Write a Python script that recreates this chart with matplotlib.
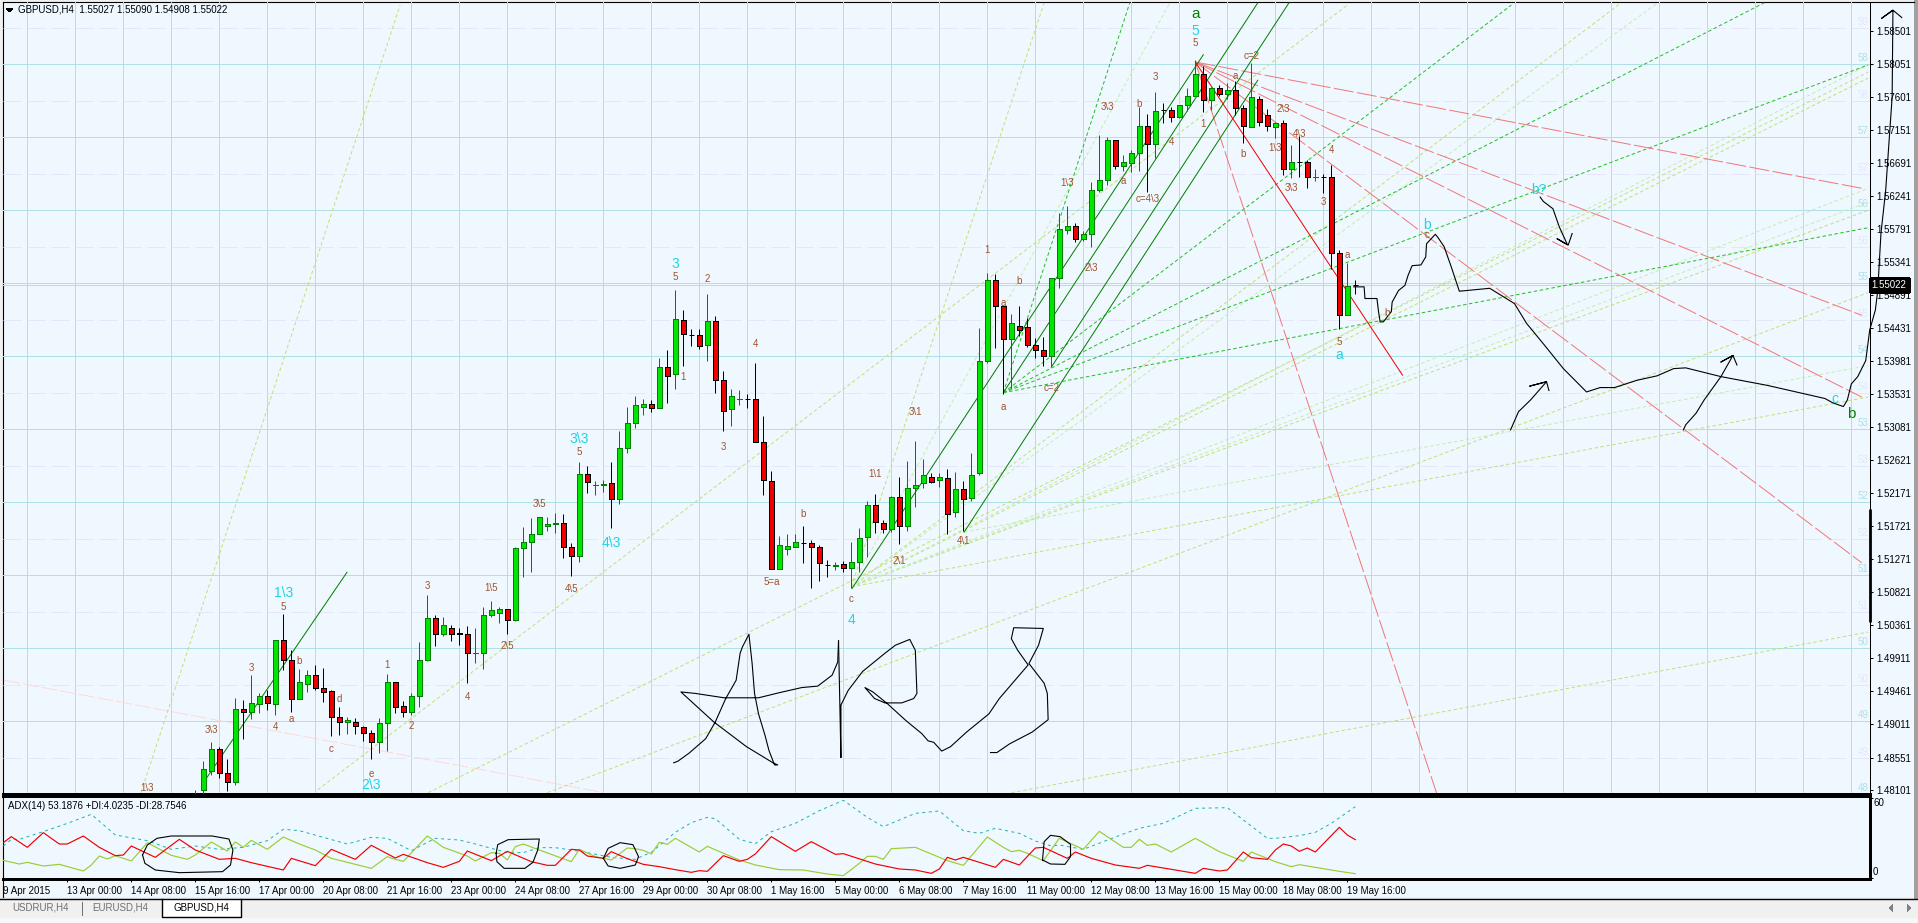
import matplotlib
matplotlib.use("Agg")
import matplotlib.pyplot as plt
from matplotlib.patches import Rectangle, Polygon
from matplotlib.transforms import blended_transform_factory as blend

plt.rcParams['font.family'] = ['Liberation Sans', 'DejaVu Sans']
plt.rcParams['lines.antialiased'] = True
plt.rcParams['patch.antialiased'] = False

# ---------------- candles, first bar index 21 ----------------
first_bar = 21
highs = [1.4810,1.4851,1.4877,1.4870,1.4853,1.4937,1.4934,1.4968,1.4943,1.4947,
 1.5016,1.5052,1.5002,1.4976,1.4975,1.4982,1.4978,1.4947,1.4925,1.4911,
 1.4910,1.4899,1.4893,1.4909,1.4970,1.4958,1.4932,1.4943,1.5014,1.5078,
 1.5050,1.5047,1.5037,1.5033,1.5035,1.5032,1.5062,1.5069,1.5062,1.5059,
 1.5144,1.5171,1.5183,1.5185,1.5185,1.5190,1.5189,1.5149,1.5260,1.5255,
 1.5234,1.5236,1.5260,1.5303,1.5335,1.5350,1.5346,1.5345,1.5403,1.5413,
 1.5496,1.5468,1.5442,1.5442,1.5490,1.5460,1.5385,1.5360,1.5358,1.5353,
 1.5396,1.5323,1.5248,1.5159,1.5162,1.5161,1.5172,1.5153,1.5147,1.5126,
 1.5123,1.5125,1.5151,1.5169,1.5207,1.5216,1.5181,1.5213,1.5239,1.5261,
 1.5289,1.5264,1.5245,1.5245,1.5250,1.5247,1.5234,1.5272,1.5443,1.5519,
 1.5518,1.5475,1.5463,1.5474,1.5457,1.5430,1.5431,1.5512,1.5601,1.5611,
 1.5587,1.5576,1.5644,1.5708,1.5705,1.5701,1.5681,1.5687,1.5746,1.5737,
 1.5767,1.5752,1.5746,1.5749,1.5773,1.5811,1.5803,1.5774,1.5777,1.5779,
 1.5782,1.5749,1.5806,1.5761,1.5743,1.5726,1.5729,1.5694,1.5706,1.5674,
 1.5661,1.5655,1.5667,1.5551,1.5532,1.55090]
body_top = [1.4800,1.4839,1.4867,1.4867,1.4834,1.4921,1.4922,1.4930,1.4940,1.4940,
 1.5016,1.5016,1.4989,1.4958,1.4968,1.4968,1.4951,1.4946,1.4911,1.4906,
 1.4904,1.4897,1.4889,1.4903,1.4958,1.4958,1.4926,1.4940,1.4989,1.5046,
 1.5046,1.5037,1.5033,1.5026,1.5024,1.4999,1.5051,1.5057,1.5058,1.5058,
 1.5142,1.5151,1.5162,1.5184,1.5175,1.5176,1.5176,1.5143,1.5243,1.5243,
 1.5228,1.5230,1.5231,1.5279,1.5313,1.5338,1.5340,1.5340,1.5390,1.5390,
 1.5456,1.5454,1.5434,1.5434,1.5453,1.5453,1.5372,1.5350,1.5347,1.5347,
 1.5347,1.5288,1.5234,1.5146,1.5145,1.5150,1.5149,1.5149,1.5144,1.5119,
 1.5119,1.5120,1.5123,1.5156,1.5201,1.5201,1.5177,1.5212,1.5212,1.5225,
 1.5228,1.5242,1.5240,1.5239,1.5238,1.5223,1.5223,1.5242,1.5398,1.5510,
 1.5510,1.5474,1.5450,1.5447,1.5445,1.5421,1.5413,1.5512,1.5579,1.5583,
 1.5583,1.5573,1.5632,1.5647,1.5701,1.5701,1.5671,1.5684,1.5721,1.5721,
 1.5741,1.5742,1.5742,1.5749,1.5761,1.5791,1.5791,1.5773,1.5773,1.5769,
 1.5769,1.5745,1.5760,1.5758,1.5736,1.5724,1.5724,1.5671,1.5671,1.5671,
 1.5651,1.5651,1.5650,1.5546,1.5501,1.55027]
body_bottom = [1.4790,1.4810,1.4837,1.4834,1.4822,1.4822,1.4918,1.4918,1.4929,1.4930,
 1.4929,1.4989,1.4936,1.4936,1.4956,1.4951,1.4945,1.4911,1.4904,1.4904,
 1.4898,1.4889,1.4877,1.4877,1.4903,1.4924,1.4917,1.4917,1.4940,1.4989,
 1.5024,1.5024,1.5025,1.5024,1.4999,1.4999,1.4999,1.5051,1.5053,1.5044,
 1.5043,1.5142,1.5151,1.5162,1.5173,1.5175,1.5143,1.5131,1.5131,1.5232,
 1.5228,1.5228,1.5210,1.5210,1.5279,1.5313,1.5336,1.5334,1.5334,1.5378,
 1.5380,1.5436,1.5434,1.5419,1.5420,1.5372,1.5330,1.5332,1.5346,1.5347,
 1.5288,1.5235,1.5113,1.5113,1.5141,1.5143,1.5149,1.5143,1.5121,1.5119,
 1.5118,1.5115,1.5115,1.5123,1.5157,1.5178,1.5168,1.5168,1.5173,1.5173,
 1.5225,1.5231,1.5233,1.5235,1.5189,1.5191,1.5210,1.5211,1.5245,1.5398,
 1.5474,1.5428,1.5429,1.5441,1.5421,1.5413,1.5405,1.5405,1.5512,1.5578,
 1.5565,1.5565,1.5573,1.5632,1.5647,1.5666,1.5666,1.5670,1.5684,1.5695,
 1.5695,1.5742,1.5732,1.5732,1.5749,1.5761,1.5756,1.5756,1.5764,1.5764,
 1.5745,1.5720,1.5719,1.5726,1.5721,1.5719,1.5662,1.5662,1.5671,1.5650,
 1.5650,1.5651,1.5546,1.5462,1.5462,1.55022]
lows = [1.4780,1.4800,1.4831,1.4827,1.4809,1.4817,1.4880,1.4908,1.4916,1.4920,
 1.4913,1.4975,1.4918,1.4935,1.4945,1.4947,1.4931,1.4884,1.4886,1.4887,
 1.4888,1.4878,1.4853,1.4861,1.4864,1.4916,1.4911,1.4913,1.4925,1.4988,
 1.5008,1.5021,1.5015,1.5009,1.4957,1.4984,1.4977,1.5048,1.5039,1.5025,
 1.5042,1.5102,1.5110,1.5161,1.5166,1.5163,1.5128,1.5104,1.5123,1.5218,
 1.5215,1.5219,1.5170,1.5203,1.5272,1.5307,1.5324,1.5329,1.5334,1.5341,
 1.5360,1.5391,1.5419,1.5415,1.5399,1.5354,1.5302,1.5310,1.5338,1.5334,
 1.5288,1.5215,1.5113,1.5113,1.5132,1.5143,1.5122,1.5088,1.5097,1.5103,
 1.5112,1.5110,1.5088,1.5110,1.5130,1.5163,1.5163,1.5164,1.5148,1.5166,
 1.5199,1.5225,1.5231,1.5226,1.5162,1.5185,1.5165,1.5207,1.5242,1.5395,
 1.5416,1.5353,1.5361,1.5433,1.5418,1.5402,1.5391,1.5391,1.5499,1.5573,
 1.5561,1.5563,1.5554,1.5630,1.5639,1.5662,1.5659,1.5658,1.5659,1.5630,
 1.5676,1.5725,1.5726,1.5731,1.5741,1.5761,1.5739,1.5742,1.5761,1.5758,
 1.5735,1.5697,1.5719,1.5720,1.5713,1.5704,1.5653,1.5649,1.5650,1.5635,
 1.5645,1.5628,1.5525,1.5442,1.5461,1.54908]
candle_kind = ("gggrrgrggr" "grrggrrrrg" "rrrggrrggg" "rgrrrggggr" "ggggggrrgr" "ggrggggrgr" "grkrgrrggk"
               "rrrgggkrrk" "grgggrrgrg" "ggrgrgrggg" "rrgrrrrggg" "rggggrgggr" "gkrgggrgrg" "rrgrrgrgkr" "gkrrgk")

# ---------------- price and time scale ----------------
price_ticks = [1.58501,1.58051,1.57601,1.57151,1.56691,1.56241,1.55791,1.55341,1.54891,1.54431,1.53981,1.53531,
               1.53081,1.52621,1.52171,1.51721,1.51271,1.50821,1.50361,1.49911,1.49461,1.49011,1.48551,1.48101]
last_price = 1.55022
grid_solid = [1.5805,1.5705,1.5605,1.5505,1.5405,1.5305,1.5205,1.5105,1.5005,1.4905]
grid_dashed = [1.5855,1.5755,1.5655,1.5555,1.5455,1.5355,1.5255,1.5155,1.5055,1.4955,1.4855]
level_prices = [1.5855,1.5805,1.5755,1.5705,1.5655,1.5605,1.5555,1.5505,1.5455,1.5405,1.5355,
                1.5305,1.5255,1.5205,1.5155,1.5105,1.5055,1.5005,1.4955,1.4905,1.4855,1.4805]
level_names = ['59','58','58','57','57','56','56','55','55','54','54','53','53','52','52','51','51','50','50','49','49','48']
grid_bars = list(range(0, 229, 6))
time_labels = ['9 Apr 2015','13 Apr 00:00','14 Apr 08:00','15 Apr 16:00','17 Apr 00:00','20 Apr 08:00','21 Apr 16:00',
               '23 Apr 00:00','24 Apr 08:00','27 Apr 16:00','29 Apr 00:00','30 Apr 08:00','1 May 16:00','5 May 00:00',
               '6 May 08:00','7 May 16:00','11 May 00:00','12 May 08:00','13 May 16:00','15 May 00:00','18 May 08:00','19 May 16:00']
time_bars = list(range(-3, 170, 8))

# ---------------- ADX ----------------
plus_di_bar = [-3,-1,0,2,4,7,8,9,10,11,13,15,18,20,21,23,25,26,27,28,30,32,34,36,38,40,43,45,46,47,50,52,55,56,58,59,60,61,62,64,68,69,71,73,75,76,
 77,78,79,80,81,84,85,89,91,94,97,100,102,104,105,106,107,108,111,115,117,120,122,123,124,125,127,129,132,134,137,138,139,140,141,143,146,149,152,153,156,158,159,164,166]
plus_di = [13.5,10.75,12,9.25,10.5,5.5,10,16.75,14.5,17,13,26.75,17.25,14.25,17.5,27.25,20.5,27.25,23.25,28.5,21.75,31,25.75,21.25,15,12,7.5,16.25,14.25,12.75,31.75,23.25,16.75,13,19.25,18.75,13.75,23.75,25.75,21.25,12.5,21.75,16.25,13.75,22.75,22.25,
 21,18.25,27,25.5,30,19.75,24,13.75,10,6.5,6.25,3.25,2,11.25,16.5,16.5,14.25,22.25,23.25,13.25,9.75,31,23.25,20,21,18.75,13.25,30,21.75,35.25,23.25,23.25,29.25,24.75,25.75,19.75,30,20,12.75,19.75,12.5,8.75,10.25,5.25,3.5]
minus_di_bar = [-3,-2,0,2,4,5,7,9,11,12,13,16,19,21,24,26,28,32,33,36,38,41,43,46,47,50,52,54,55,58,60,63,65,66,68,69,70,72,73,75,
 77,79,81,83,84,85,87,89,90,91,93,96,98,101,102,106,109,111,113,114,115,116,117,121,122,124,126,127,130,131,133,136,139,140,146,147,149,150,152,153,155,156,157,158,159,160,161,164,165,166]
minus_di = [26.75,31.25,23.25,34.25,25.75,25.75,31.75,23.25,17,17.5,24.25,15.75,29.25,21.25,14.25,15,11.75,6.25,15,9.5,21.75,14.25,24.75,15.25,18,11.75,8.25,12.75,20.5,13.25,20.25,12.5,9.75,9.75,21.75,21.25,16.75,15,20,14.75,
 10.5,8.75,6.5,4.5,5.75,5.25,17,12.75,14.25,18.25,31.25,20.25,27.5,18,18.5,10.75,7,6.25,3.75,7,15.75,13.75,15.75,8.25,14.25,10,22.75,23.25,15,19.75,15,10,7.5,9.75,3.75,7.5,5.5,6.25,19.75,15.5,14.25,21.25,25.75,24.25,20.25,22.75,19.75,38.25,32.5,29]
adx_bar = [-3,-2,-1,2,5,8,11,15,18,21,24,27,30,32,34,40,43,45,48,51,54,56,60,62,64,66,68,70,73,76,
 77,78,81,83,85,86,89,91,93,96,99,102,105,107,111,114,117,119,121,124,126,128,129,132,137,139,142,146,150,155,156,159,161,163,166]
adx = [24.25,29.25,29.25,35,41.25,48,32.5,28.25,21.75,24.25,21.75,23.25,28.25,36.75,35.75,25.75,30.75,30,20.75,30,28.75,25.75,19.25,19.25,23,23,21.25,19.25,15.75,14.25,
 17,19.5,34.5,41.75,45.75,44.75,29.25,26,35,41.25,50.75,58.5,45.75,38.75,48.75,50.5,35.75,33.75,37.5,33.75,28,24.25,25,21.75,33.25,37.5,41.25,52.5,53,30,30,32,34.5,41.25,53.75]

ring1_bar = [14.4,15,16.2,18,23.1,25.2,25.7,25.4,24.4,19,16,14.7,14.4]
ring1_val = [17.5,25,30,31.75,31.75,29.5,21.25,10,5,4.25,6.25,11.25,17.5]
ring2_bar = [58.6,58.8,60.1,64,64,63.8,63.2,62.2,59.6,58.7,58.6]
ring2_val = [18.75,25.25,29,29.5,29.5,21.25,12,7.5,7.5,12.5,18.75]
ring3_bar = [72,72.6,74.1,75.7,76.4,76,74.1,72.6,72]
ring3_val = [15,22.5,26.75,25.25,16.25,10,7.5,9.25,15]
ring4_bar = [126.9,127.1,127.9,129.1,130.4,130.4,129.7,127.9,126.9]
ring4_val = [13.75,27.5,32.25,31.25,25.5,16.25,10.5,10.75,13.75]

# ---------------- drawn trend objects: (bar, price) pairs ----------------
channel_segments = [(21.96,1.4820,39.96,1.5109),(103.1,1.5087,147,1.5818),(122,1.5355,153.8,1.5889),
                    (128,1.5390,157.7,1.5889),(117.1,1.5164,153.8,1.5783)]
red_segment = (146,1.5808,171.9,1.5379)
red_fan_ends = [(229.3,1.5635),(229.3,1.5461),(229.3,1.5349),(229.3,1.5122),(176.2,1.4805)]
pink_segment = (-2.9,1.4961,72.1,1.4807)
olive_segments = [(14.2,1.4807,46.6,1.5886),(36.3,1.4811,165,1.5886),(50.1,1.4807,230.1,1.5794),
                  (65,1.4807,230.1,1.5492),(123,1.4807,230.1,1.5027),
                  (103,1.5089,230.1,1.5349),(103,1.5089,230.1,1.5605),(103,1.5089,127.1,1.5889),
                  (103,1.5089,199.2,1.5889),(103,1.5089,230.1,1.5786)]
light_segments = [(103,1.5089,230.1,1.5635),(103,1.5089,230.1,1.5804),(103,1.5089,203.8,1.5889),
                  (103,1.5089,142.8,1.5889),(103,1.5089,230.1,1.5616),(117.1,1.5164,230.1,1.5392)]
green_segments = [(122,1.5355,230.1,1.5581),(122,1.5355,230.1,1.5804),(122,1.5355,217.1,1.5889),
                  (122,1.5355,185.5,1.5886),(122,1.5355,137.8,1.5889)]

# hand-drawn strokes
star_bar = [80.8,81.3,82.7,84.8,86.0,87.3,88.6,89.1,89.4,90.2,90.6,90.9,91.4,92.2,92.7,93.4,93.8,93.2,89.9,85.8,81.7,83.5,87.1,91.4,94.0,96.8,98.8,100.6,101.3,101.4]
star_price = [1.4848,1.4850,1.4861,1.4881,1.4904,1.4936,1.4961,1.4998,1.5007,1.5024,1.4984,1.4943,1.4915,1.4886,1.4865,1.4845,1.4845,1.4848,1.4870,1.4904,1.4945,1.4943,1.4937,1.4937,1.4944,1.4951,1.4953,1.4968,1.4986,1.5015]
stroke2_bar = [101.4,101.7,101.7,101.7,102.6,104.4,107.2,108.5,110.3,111.0,111.2,110.8,109.3,107.2,105.9,104.7,105.7,107.5,109.8,111.8,112.6,113.3,114.3,115.4,117.4,120.2,121.5,125.1,123.8,123.0,123.3,127.0,126.4,125.2,127.1,127.5,127.6,125.6,122.8,121.2,120.4]
stroke2_price = [1.5015,1.4855,1.4899,1.4927,1.4947,1.4973,1.4998,1.5009,1.5017,1.5002,1.4943,1.4936,1.4930,1.4930,1.4936,1.4951,1.4945,1.4929,1.4906,1.4888,1.4878,1.4876,1.4864,1.4870,1.4890,1.4915,1.4936,1.4982,1.5002,1.5018,1.5033,1.5032,1.5009,1.4984,1.4957,1.4943,1.4907,1.4890,1.4874,1.4862,1.4862]
path_bar = [165.8,167.1,167.2,168.7,168.9,169.1,169.5,170.5,170.6,171.4,172.2,172.6,173.1,174.2,174.8,174.9,176,176.3,177.1,178,179,182.8,185.9,187.4,189.5,192,194.9,196.6,198.4,201.2,203.7,205.8,207.3,211.7,217.5,224.7,225.7,227,227.4,227.5,228,228.8,229.8,230.3,231,231.3,231.7,232.3,232.7,233.1,233.2,231.8,233.2,234.3]
path_price = [1.5500,1.5500,1.5484,1.5484,1.5466,1.5452,1.5452,1.5466,1.5479,1.5495,1.5502,1.5516,1.5529,1.5530,1.5541,1.5559,1.5572,1.5568,1.5555,1.5527,1.5494,1.5498,1.5477,1.5450,1.5422,1.5388,1.5356,1.5362,1.5362,1.5372,1.5378,1.5388,1.5389,1.5377,1.5365,1.5347,1.5341,1.5336,1.5343,1.5345,1.5367,1.5377,1.5399,1.5441,1.5468,1.5495,1.5573,1.5633,1.5697,1.5760,1.5879,1.5868,1.5879,1.5869]
arrow_b_bar = [189.1,189.5,190.7,191.5,192.5,191.2,192.6,193.1]
arrow_b_price = [1.5623,1.5617,1.5607,1.5582,1.5558,1.5566,1.5557,1.5573]
arrow1_bar = [185.4,186.4,187.9,189.9,187.8,189.9,190.2]
arrow1_price = [1.5304,1.5329,1.5345,1.5370,1.5364,1.5370,1.5358]
arrow2_bar = [207,207.3,208.6,209.6,211.7,213.2,211.7,213.2,213.7]
arrow2_price = [1.5304,1.5311,1.5327,1.5345,1.5377,1.5406,1.5397,1.5406,1.5393]

# ---------------- wave labels ----------------
wave_text = ['1\\3','3\\3','3','5','4','b','a','d','c','e','1','2','3','4','1\\5','2\\5','3\\5','4\\5','5',
             '5','2','4','1','1','a','b','1\\3','2\\3','c=2','3\\3','a','b','c=4\\3','3','4','5','1','a','c=2','b','1\\3',
             '3','5=a','b','c','1\\1','3\\1','2\\1','4\\1','a','2\\3','4\\3','3\\3','4','3','a','5','b','c']
wave_bar = [15,23,28,32,31,34,33,39,38,43,45,48,50,55,58,60,64,68,69,
            81,85,91,82,120,122,124,130,133,128,135,137,139,140,141,143,146,147,151,153,152,156,
            87,93,97,103,106,111,109,117,122,157,159,158,163,162,165,164,170,175]
wave_price = [1.4813,1.4893,1.4978,1.5062,1.4897,1.4988,1.4908,1.4936,1.4867,1.4833,1.4982,1.4899,1.5090,1.4938,1.5088,1.5008,1.5202,1.5086,1.5274,
              1.5513,1.5511,1.5422,1.5377,1.5551,1.5478,1.5508,1.5642,1.5526,1.5361,1.5746,1.5645,1.5750,1.5620,1.5787,1.5698,1.5834,1.5723,1.5789,1.5816,1.5682,1.5690,
              1.5280,1.5096,1.5189,1.5072,1.5244,1.5329,1.5125,1.5152,1.5335,1.5744,1.5709,1.5636,1.5688,1.5616,1.5544,1.5425,1.5464,1.5571]
major_text = ['1\\3','2\\3','3\\3','4\\3','3','4','5','a','b','b?','c']
major_bar = [32,43,69,73,81,103,146,164,175,189,226]
major_price = [1.5081,1.4817,1.5292,1.5149,1.5531,1.5044,1.5850,1.5406,1.5585,1.5633,1.5347]
top_text = ['a','b']
top_bar = [146,228]
top_price = [1.5874,1.5326]

# ---------------- colours ----------------
BG = '#F0F8FF'; GRID = '#B0E0E6'; LAV = '#E6E6FA'
OLIVE = '#C4DF78'; LIGHT = '#C6ECB0'; BRIGHT = '#22C022'; SALMON = '#F07878'; PINK = '#FFD8D8'
DARKG = '#008000'; LIME = '#00E400'; RED = '#EE0000'
BROWN = '#A0522D'; CYAN = '#22D3E6'
THIN = 0.55
SOFT = 0.72

W, H = 1918, 923
fig = plt.figure(figsize=(W/100, H/100), dpi=100, facecolor='#F0F0F0')

def rect(l, t, r, b):
    return [l/W, 1-b/H, (r-l)/W, (b-t)/H]

# window chrome in pixel units
chrome = fig.add_axes([0, 0, 1, 1], zorder=0)
chrome.set_xlim(0, W); chrome.set_ylim(H, 0); chrome.axis('off')
chrome.add_patch(Rectangle((2.5, 1.5), 1911.5, 895.5, fc=BG, ec='none'))
chrome.plot([2.5, 1914], [1.5, 1.5], color='black', lw=0.8)
chrome.plot([2.5, 2.5], [1.5, 897], color='black', lw=0.8)
chrome.plot([0, W], [899, 899], color='black', lw=1.0)
chrome.add_patch(Rectangle((1914, 0), 4, 899, fc='#A0A0A0', ec='none'))
chrome.add_patch(Rectangle((0, 900), W, 18, fc='#F0F0F0', ec='none'))
chrome.add_patch(Rectangle((0, 918), W, 5, fc='#F7F7F7', ec='none'))
chrome.add_patch(Rectangle((162, 899), 79, 18, fc='white', ec='none'))
chrome.plot([162, 162, 241, 241], [899, 917, 917, 899], color='black', lw=1.0)
chrome.plot([82, 82], [902, 915], color='#707070', lw=SOFT)
chrome.text(12, 908, 'USDRUR,H4', color='#707070', fontsize=7, va='center')
chrome.text(92, 908, 'EURUSD,H4', color='#707070', fontsize=7, va='center')
chrome.text(173, 908, 'GBPUSD,H4', color='black', fontsize=7, va='center')
chrome.add_patch(Polygon([(1893, 904), (1893, 912), (1889, 908)], fc='#808080', ec='none'))
chrome.add_patch(Polygon([(1907, 904), (1907, 912), (1911, 908)], fc='#808080', ec='none'))

# ---------------- main panel ----------------
ax = fig.add_axes(rect(3, 1.5, 1869.5, 794), zorder=1)
ax.patch.set_alpha(0)
ax.set_xlim(-3.04, 230.27)
ax.set_ylim(1.48052, 1.58909)
for s in ('top', 'left'):
    ax.spines[s].set_visible(False)
ax.spines['right'].set_linewidth(0.7)
ax.spines['bottom'].set_linewidth(0.8)

for b in grid_bars:
    ax.axvline(b, color=GRID, lw=SOFT, zorder=1)
for p in grid_solid:
    ax.axhline(p, color=GRID, lw=SOFT, zorder=1)
for p in grid_dashed:
    ax.axhline(p, color=LAV, lw=SOFT, ls=(0, (18, 6)), zorder=1)
ax.axhline(last_price, color='#D3D3D3', lw=SOFT, zorder=1.5)

for p, n in zip(level_prices, level_names):
    ax.text(229.5, p + 0.0008, n, fontsize=7, ha='center', va='center',
            color=GRID if int(round((p - 1.4805) * 100000)) % 1000 == 0 else LAV, zorder=1.5)

def seg(s, **kw):
    ax.plot([s[0], s[2]], [s[1], s[3]], **kw)

for s in [pink_segment]:
    seg(s, color=PINK, lw=SOFT, ls=(0, (16, 3)), zorder=2)
for s in olive_segments:
    seg(s, color=OLIVE, lw=SOFT, ls=(0, (3.5, 2.5)), zorder=2)
for s in light_segments:
    seg(s, color=LIGHT, lw=SOFT, ls=(0, (3.5, 2.5)), zorder=2)
for s in green_segments:
    seg(s, color=BRIGHT, lw=SOFT, ls=(0, (3.5, 2.5)), zorder=2.1)
for end in red_fan_ends:
    seg((red_segment[0], red_segment[1], end[0], end[1]), color=SALMON, lw=SOFT, ls=(0, (20, 3.5)), zorder=2.1)
for s in channel_segments:
    seg(s, color=DARKG, lw=SOFT, zorder=2.2)
seg(red_segment, color='#F00000', lw=SOFT, zorder=2.2)

# candles
for k, kind in enumerate(candle_kind):
    i = first_bar + k
    wick = DARKG if kind == 'g' else 'black'
    ax.vlines(i, lows[k], highs[k], color=wick, lw=SOFT, zorder=3)
    if kind == 'k':
        ax.hlines(body_top[k], i - 0.33, i + 0.33, color='black', lw=SOFT, zorder=3.2)
    else:
        ax.bar(i, body_top[k] - body_bottom[k], bottom=body_bottom[k], width=0.62,
               color=LIME if kind == 'g' else RED, edgecolor=DARKG if kind == 'g' else 'black',
               linewidth=THIN, zorder=3.1, antialiased=False)

# hand strokes
for xs, ys in [(star_bar, star_price), (stroke2_bar, stroke2_price), (path_bar, path_price),
               (arrow_b_bar, arrow_b_price), (arrow1_bar, arrow1_price), (arrow2_bar, arrow2_price)]:
    ax.plot(xs, ys, color='black', lw=0.8, zorder=4, clip_on=False)

# labels
for t, x, y in zip(wave_text, wave_bar, wave_price):
    ax.text(x, y, t, color=BROWN, fontsize=7, ha='center', va='center', zorder=5)
for t, x, y in zip(major_text, major_bar, major_price):
    ax.text(x, y, t, color=CYAN, fontsize=10, ha='center', va='center', zorder=5)
for t, x, y in zip(top_text, top_bar, top_price):
    ax.text(x, y, t, color=DARKG, fontsize=11, ha='center', va='center', zorder=5)

ax.set_xticks([])
ax.yaxis.tick_right()
ax.set_yticks(price_ticks)
ax.set_yticklabels(['%.5f' % v for v in price_ticks])
ax.tick_params(axis='y', length=2.2, width=SOFT, pad=3, labelsize=7)

tr = blend(ax.transAxes, ax.transData)
ax.plot([1, 1], [1.5196, 1.5041], transform=tr, color='black', lw=2.0, clip_on=False, solid_capstyle='butt', zorder=6)
ax.text(1.0012, last_price, '%.5f' % last_price, transform=tr, fontsize=7, color='white', va='center', ha='left',
        bbox=dict(boxstyle='square,pad=0.22', fc='black', ec='black'), zorder=7)
ax.text(18, 10, 'GBPUSD,H4  1.55027 1.55090 1.54908 1.55022', transform=chrome.transData, fontsize=7, va='center', zorder=8)
chrome.add_patch(Polygon([(6, 8), (13, 8), (9.5, 12)], fc='black', ec='none', zorder=8))

# ---------------- ADX panel ----------------
ax2 = fig.add_axes(rect(3, 796, 1869.5, 879), zorder=1)
ax2.patch.set_alpha(0)
ax2.set_xlim(-3.04, 230.27)
ax2.set_ylim(-0.5, 61.75)
for s in ('left',):
    ax2.spines[s].set_visible(False)
for s in ('top', 'right', 'bottom'):
    ax2.spines[s].set_linewidth(0.8)
ax2.plot(adx_bar, adx, color='#20B2AA', lw=SOFT, ls=(0, (3, 3.5)), zorder=2)
ax2.plot(plus_di_bar, plus_di, color='#9ACD32', lw=0.85, zorder=2.1)
ax2.plot(minus_di_bar, minus_di, color='#F00000', lw=0.85, zorder=2.2)
for xs, ys in [(ring1_bar, ring1_val), (ring2_bar, ring2_val), (ring3_bar, ring3_val), (ring4_bar, ring4_val)]:
    ax2.plot(xs, ys, color='black', lw=0.8, zorder=3, clip_on=False)
ax2.text(8, 805.7, 'ADX(14) 53.1876 +DI:4.0235 -DI:28.7546', transform=chrome.transData, fontsize=7, va='center', zorder=8)
ax2.yaxis.tick_right()
ax2.set_yticks([0, 60])
ax2.set_yticklabels([])
tr2 = blend(ax2.transAxes, ax2.transData)
ax2.annotate('60', (1, 60), xycoords=tr2, xytext=(2.6, -3.6), textcoords='offset points', fontsize=7, va='center')
ax2.annotate('0', (1, 0), xycoords=tr2, xytext=(2.6, 4.3), textcoords='offset points', fontsize=7, va='center')
ax2.set_xticks(time_bars)
ax2.set_xticklabels(time_labels, ha='left', fontsize=7)
ax2.tick_params(axis='x', length=2.2, width=SOFT, pad=2.8)
ax2.tick_params(axis='y', length=2.2, width=SOFT)

fig.savefig('out.png', dpi=100, facecolor=fig.get_facecolor())
